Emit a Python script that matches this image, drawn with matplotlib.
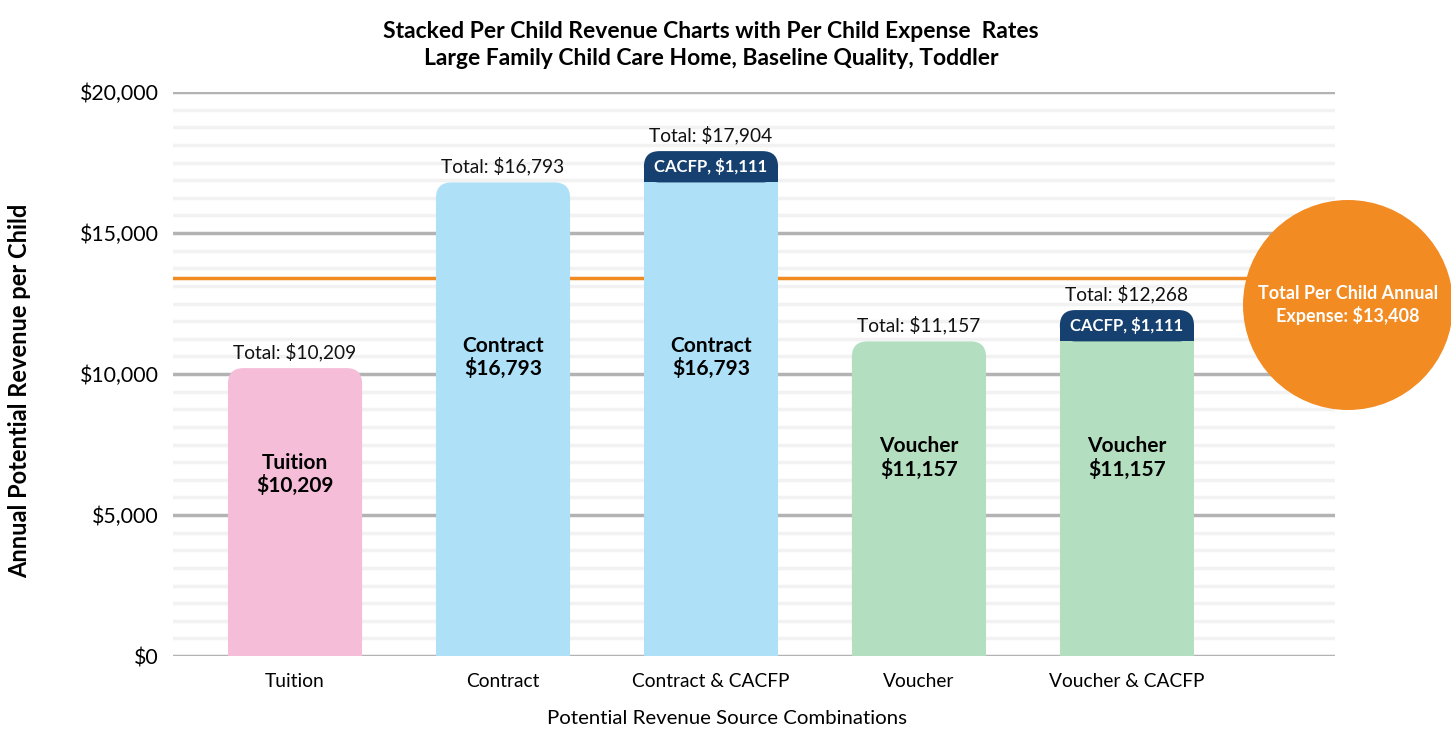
import matplotlib
matplotlib.use("Agg")
import matplotlib.pyplot as plt
from matplotlib.patches import FancyBboxPatch, Rectangle, Circle
from matplotlib.ticker import MultipleLocator, FuncFormatter

# datos del grafico
categorias = ["Tuition", "Contract", "Contract & CACFP", "Voucher", "Voucher & CACFP"]
fuente_base = ["Tuition", "Contract", "Contract", "Voucher", "Voucher"]
valor_base = [10209, 16793, 16793, 11157, 11157]
valor_cacfp = [0, 0, 1111, 0, 1111]
totales = [10209, 16793, 17904, 11157, 12268]
gasto_por_nino = 13408

color_base = {"Tuition": "#F5BDD7", "Contract": "#AEE0F7", "Voucher": "#B3DEC0"}
color_cacfp = "#16406F"
naranja = "#F28A22"

plt.rcParams['font.family'] = ['Lato', 'DejaVu Sans']

fig = plt.figure(figsize=(14.51, 7.29), dpi=100)
ax = fig.add_axes([0.1192, 0.1001, 0.8008, 0.7737])

ax.set_xlim(-0.587, 5.0)
ax.set_ylim(0, 20000)

# rejilla
ax.yaxis.set_major_locator(MultipleLocator(5000))
ax.yaxis.set_minor_locator(MultipleLocator(625))
ax.grid(axis='y', which='major', color='#B3B3B3', linewidth=2.5, zorder=0)
ax.grid(axis='y', which='minor', color='#F2F2F2', linewidth=2.5, zorder=0)
ax.set_axisbelow(True)
for s in ax.spines.values():
    s.set_visible(False)
ax.tick_params(axis='both', which='both', length=0)
ax.yaxis.set_major_formatter(FuncFormatter(lambda v, p: "${:,.0f}".format(v)))
ax.tick_params(axis='y', labelsize=15.3, pad=10)
ax.tick_params(axis='x', labelsize=13.8, pad=12)
ax.set_xticks(range(len(categorias)))
ax.set_xticklabels(categorias)

ancho = 0.645
radio_x = 0.075
# aspecto datos: unidades y por unidad x en pantalla
px_x = ax.get_position().width * 1451 / (5.0 + 0.587)
px_y = ax.get_position().height * 729 / 20000
aspecto = px_x / px_y


def barra_redondeada(x, abajo, alto, color):
    caja = FancyBboxPatch((x - ancho / 2, abajo), ancho, alto,
                          boxstyle="round,pad=0,rounding_size=%f" % radio_x,
                          mutation_aspect=aspecto, facecolor=color,
                          edgecolor='none', zorder=3)
    ax.add_patch(caja)
    ax.add_patch(Rectangle((x - ancho / 2, abajo), ancho, alto / 2,
                           facecolor=color, edgecolor='none', zorder=3))


for i, cat in enumerate(categorias):
    c = color_base[fuente_base[i]]
    if valor_cacfp[i] > 0:
        ax.bar(i, valor_base[i], width=ancho, color=c, zorder=3)
        barra_redondeada(i, valor_base[i], valor_cacfp[i], color_cacfp)
        ax.text(i, valor_base[i] + valor_cacfp[i] / 2,
                "CACFP, ${:,}".format(valor_cacfp[i]), ha='center', va='center',
                color='white', fontsize=12, fontweight='bold', zorder=5)
    else:
        barra_redondeada(i, 0, valor_base[i], c)
    ax.text(i, valor_base[i] * 0.63,
            "{}\n${:,}".format(fuente_base[i], valor_base[i]), ha='center',
            va='center', fontsize=15, fontweight='bold', color='black',
            linespacing=1.15, zorder=5)
    ax.text(i, totales[i] + 250, "Total: ${:,}".format(totales[i]),
            ha='center', va='bottom', fontsize=13.8, color='#111111', zorder=5)

# linea de gasto
ax.axhline(gasto_por_nino, color=naranja, linewidth=2.5, zorder=2)

circulo = Circle((13.48, 4.24), 1.05, transform=fig.dpi_scale_trans,
                 facecolor='#F28B22', edgecolor='none', zorder=6)
fig.add_artist(circulo)
fig.text(13.48 / 14.51, 4.24 / 7.29,
         "Total Per Child Annual\nExpense: ${:,}".format(gasto_por_nino),
         ha='center', va='center', color='white', fontsize=13,
         fontweight='bold', linespacing=1.2, zorder=7)

fig.text(0.49, 0.938,
         "Stacked Per Child Revenue Charts with Per Child Expense  Rates\n"
         "Large Family Child Care Home, Baseline Quality, Toddler",
         ha='center', va='center', fontsize=16.5, fontweight='bold',
         linespacing=1.35)
ax.set_ylabel("Annual Potential Revenue per Child", fontsize=17,
              fontweight='bold')
ax.yaxis.set_label_coords(-0.122, 0.47)
ax.set_xlabel("Potential Revenue Source Combinations", fontsize=14.7)
ax.xaxis.set_label_coords(0.477, -0.095)

fig.savefig("out.png", dpi=100)
